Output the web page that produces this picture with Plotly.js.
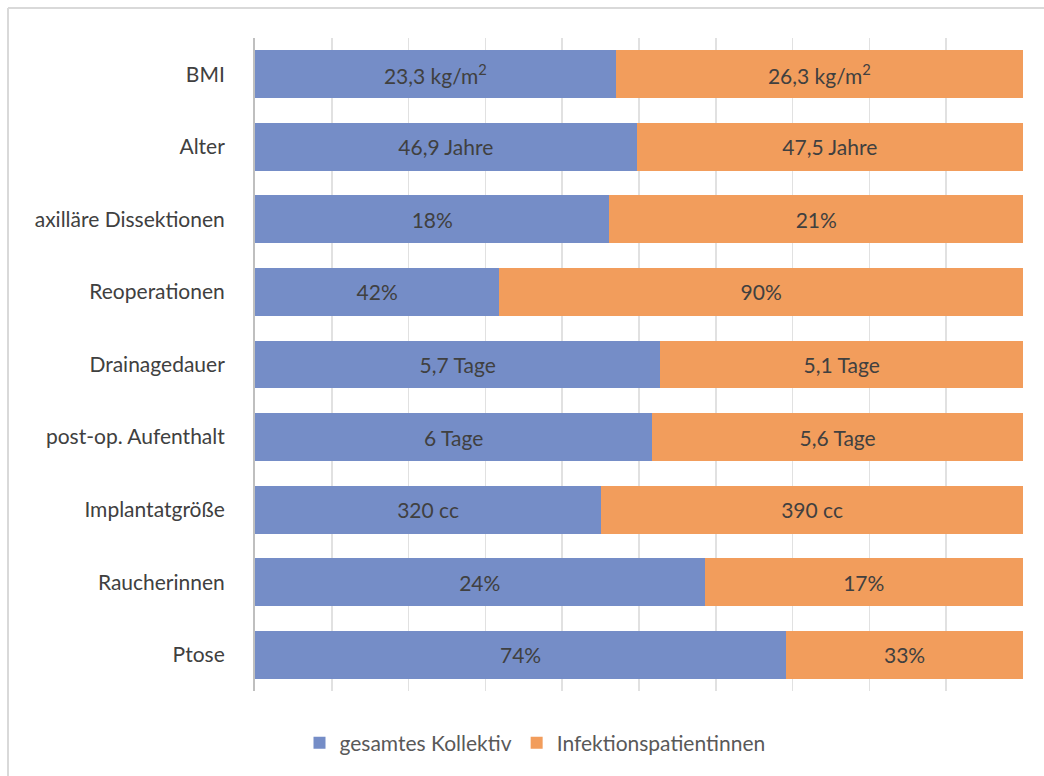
<!DOCTYPE html>
<html>
<head>
<meta charset="utf-8">
<script src="https://cdn.plot.ly/plotly-3.0.1.min.js"></script>
<style>
  html, body { margin: 0; padding: 0; background: #ffffff; }
  #chart { width: 1044px; height: 776px; }
</style>
</head>
<body>
<div id="chart"></div>
<script>
// Kategorien (von oben nach unten)
const categories = [
  'BMI', 'Alter', 'axilläre Dissektionen', 'Reoperationen', 'Drainagedauer',
  'post-op. Aufenthalt', 'Implantatgröße', 'Raucherinnen', 'Ptose'
];
// Einheit je Kategorie
const units = [
  ' kg/m<sup>2</sup>', ' Jahre', '%', '%', ' Tage', ' Tage', ' cc', '%', '%'
];
// Werte je Gruppe
const gesamtesKollektiv = [23.3, 46.9, 18, 42, 5.7, 6, 320, 24, 74];
const infektionspatientinnen = [26.3, 47.5, 21, 90, 5.1, 5.6, 390, 17, 33];

const seriesNames = ['gesamtes Kollektiv', 'Infektionspatientinnen'];
const seriesColors = ['#758dc7', '#f29d5c'];

// deutsche Schreibweise mit Komma
function label(v, i) {
  return String(v).replace('.', ',') + units[i];
}

const W = 1044, H = 776;
const M = { l: 255, r: 21, t: 38, b: 85 };
const plotW = W - M.l - M.r, plotH = H - M.t - M.b;
const px = x => (x - M.l) / plotW;
const py = y => (H - M.b - y) / plotH;

const FONT = 'Lato, "Open Sans", sans-serif';
const textFont = { family: FONT, size: 21, color: '#404040' };

const traces = [gesamtesKollektiv, infektionspatientinnen].map((vals, k) => ({
  type: 'bar',
  orientation: 'h',
  name: seriesNames[k],
  y: categories,
  x: vals,
  text: vals.map(label),
  texttemplate: '%{text}',
  textposition: 'inside',
  insidetextanchor: 'middle',
  constraintext: 'none',
  textangle: 0,
  textfont: textFont,
  insidetextfont: textFont,
  marker: { color: seriesColors[k], line: { width: 0 } },
  hoverinfo: 'skip'
}));

const frameColor = '#d9d9d9';

const layout = {
  width: W,
  height: H,
  margin: M,
  paper_bgcolor: '#ffffff',
  plot_bgcolor: '#ffffff',
  barmode: 'stack',
  barnorm: 'percent',
  bargap: 0.34,
  font: { family: FONT, size: 21, color: '#404040' },
  showlegend: true,
  legend: {
    orientation: 'h',
    x: px(535),
    xanchor: 'center',
    y: py(743),
    yanchor: 'middle',
    font: { size: 21, color: '#595959' },
    itemwidth: 30,
    traceorder: 'normal'
  },
  xaxis: {
    range: [0, 100],
    dtick: 10,
    showticklabels: false,
    showgrid: true,
    gridcolor: 'rgba(200,200,200,0.55)',
    gridwidth: 1.5,
    zeroline: false,
    showline: false,
    ticks: '',
    layer: 'above traces',
    fixedrange: true
  },
  yaxis: {
    autorange: 'reversed',
    type: 'category',
    showgrid: false,
    zeroline: false,
    showline: true,
    linecolor: '#bfbfbf',
    linewidth: 2,
    ticks: '',
    ticklabelstandoff: 24,
    tickfont: { size: 21, color: '#404040' },
    fixedrange: true
  },
  shapes: [
    // Rahmen des Diagrammbereichs (oben und links)
    { type: 'line', xref: 'paper', yref: 'paper', x0: px(8), x1: px(1050), y0: py(8), y1: py(8),
      line: { color: frameColor, width: 2 } },
    { type: 'line', xref: 'paper', yref: 'paper', x0: px(8), x1: px(8), y0: py(8), y1: py(790),
      line: { color: frameColor, width: 2 } }
  ]
};

Plotly.newPlot('chart', traces, layout, { displayModeBar: false, staticPlot: true });
</script>
</body>
</html>
